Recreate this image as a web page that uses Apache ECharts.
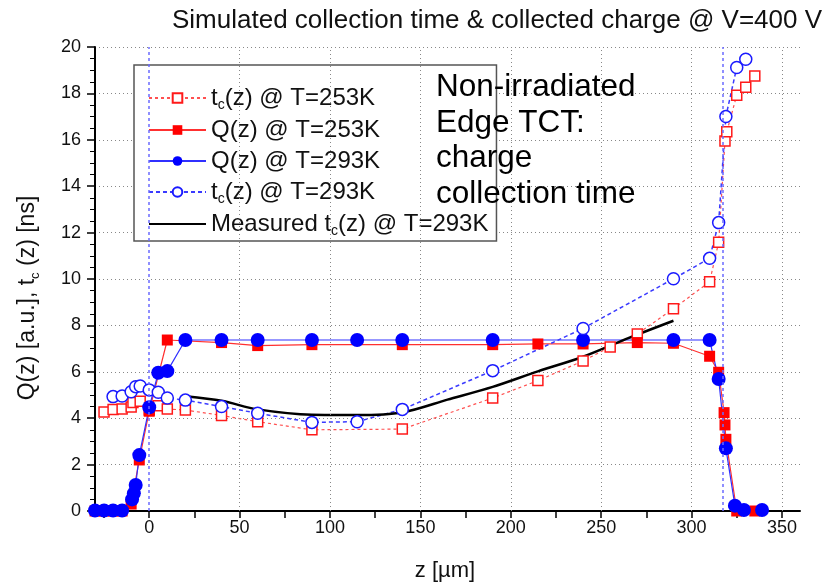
<!DOCTYPE html>
<html>
<head>
<meta charset="utf-8">
<script src="https://cdn.jsdelivr.net/npm/echarts@6/dist/echarts.min.js"></script>
</head>
<body style="margin:0;background:#fff">
<div id="main" style="width:830px;height:582px;"></div>
<script type="text/javascript">
// simulated t_c(z), T=253K (open red squares)
var tc253Z = [-25, -20, -15, -10, -9, -5, 0, 5, 10, 20, 40, 60, 90, 140, 190, 215, 240, 255, 270, 290, 310, 315, 318.5, 319.5, 325, 330, 335];
var tc253V = [4.27, 4.38, 4.4, 4.48, 4.68, 4.73, 4.35, 4.54, 4.4, 4.35, 4.12, 3.85, 3.5, 3.53, 4.87, 5.62, 6.47, 7.07, 7.63, 8.72, 9.88, 11.58, 15.95, 16.35, 17.92, 18.26, 18.75];
// simulated Q(z), T=253K (filled red squares)
var q253Z = [-30, -25, -20, -15, -10, -5.5, 0, 10, 40, 60, 90, 140, 190, 215, 240, 270, 290, 310, 315, 318, 318.5, 319, 325, 335];
var q253V = [0, 0, 0, 0, 0.3, 2.2, 4.3, 7.37, 7.26, 7.13, 7.17, 7.17, 7.17, 7.2, 7.2, 7.26, 7.23, 6.67, 5.98, 4.24, 3.71, 3.09, 0, 0];
// simulated Q(z), T=293K (filled blue circles)
var q293Z = [-30, -25, -20, -15, -9.5, -8.5, -7.5, -5.5, 0, 5, 10, 20, 40, 60, 90, 115, 140, 190, 240, 290, 310, 315, 319, 324, 329, 339];
var q293V = [0.02, 0.02, 0.02, 0.02, 0.5, 0.76, 1.12, 2.41, 4.47, 5.96, 6.03, 7.37, 7.37, 7.37, 7.37, 7.37, 7.37, 7.37, 7.37, 7.37, 7.37, 5.69, 2.7, 0.23, 0.04, 0.04];
// simulated t_c(z), T=293K (open blue circles)
var tc293Z = [-20, -15, -10, -7.5, -5, 0, 5, 10, 20, 40, 60, 90, 115, 140, 190, 240, 290, 310, 315, 319, 325, 330];
var tc293V = [4.93, 4.96, 5.14, 5.36, 5.39, 5.22, 5.12, 4.87, 4.78, 4.5, 4.21, 3.82, 3.85, 4.38, 6.05, 7.87, 10.01, 10.89, 12.43, 17.0, 19.12, 19.47];
// measured t_c(z), T=293K (black line)
var measZ = [20, 40, 60, 90, 115, 140, 165, 190, 215, 240, 265, 290];
var measV = [4.95, 4.75, 4.38, 4.15, 4.14, 4.25, 4.8, 5.35, 6.02, 6.65, 7.45, 8.2];

var xLabels = [0, 50, 100, 150, 200, 250, 300, 350];
var xTicks = [-25, 0, 25, 50, 75, 100, 125, 150, 175, 200, 225, 250, 275, 300, 325, 350];
var xGrid = [50, 100, 150, 200, 250, 300, 350];
var edgeLines = [0, 317];

function pairs(zs, vs) {
    var res = [];
    for (var i = 0; i < zs.length; i++) res.push([zs[i], vs[i]]);
    return res;
}

var myChart = echarts.init(document.getElementById('main'));
var FONT = 'Liberation Sans, Arial, sans-serif';

var gridMarks = xGrid.map(function (v) {
    return {xAxis: v};
});
edgeLines.forEach(function (v) {
    gridMarks.push({xAxis: v, lineStyle: {color: '#6b6bff', width: 1.5, type: [3, 3]}});
});

var option = {
    backgroundColor: '#fff',
    animation: false,
    title: {
        text: 'Simulated collection time & collected charge @ V=400 V',
        left: 167, top: 3,
        textStyle: {fontFamily: FONT, fontSize: 26, fontWeight: 'normal', color: '#111'}
    },
    grid: {left: 95, right: 30, top: 47, bottom: 71},
    legend: {
        orient: 'vertical',
        left: 134, top: 65,
        padding: [20, 8, 3, 14],
        itemGap: 5,
        itemWidth: 57,
        itemHeight: 12,
        borderColor: '#555',
        borderWidth: 1.5,
        backgroundColor: '#fff',
        data: [
            'tc(z) @ T=253K', 'Q(z) @ T=253K', 'Q(z) @ T=293K', 'tc(z) @ T=293K',
            {name: 'Measured tc(z) @ T=293K', itemStyle: {opacity: 0}}
        ],
        formatter: function (name) {
            return name.replace('tc', 't{sub|c}');
        },
        textStyle: {
            fontFamily: FONT, fontSize: 24, color: '#111', lineHeight: 26,
            rich: {sub: {fontSize: 14, fontFamily: FONT, color: '#111', padding: [14, 0, 0, 0]}}
        }
    },
    xAxis: {
        type: 'value', min: -30, max: 360,
        axisLine: {lineStyle: {color: '#000', width: 2}},
        axisTick: {customValues: xTicks, length: 7, lineStyle: {color: '#000', width: 1.5}},
        axisLabel: {customValues: xLabels, fontFamily: FONT, fontSize: 18, color: '#111', margin: 8},
        splitLine: {show: false}
    },
    yAxis: {
        type: 'value', min: 0, max: 20, interval: 2,
        axisLine: {show: true, onZero: false, lineStyle: {color: '#000', width: 2}},
        axisTick: {show: true, length: 8, lineStyle: {color: '#000', width: 1.5}},
        minorTick: {show: true, splitNumber: 4, length: 5, lineStyle: {color: '#000', width: 1}},
        axisLabel: {fontFamily: FONT, fontSize: 18, color: '#111', margin: 14},
        splitLine: {show: true, lineStyle: {color: '#888', width: 1, type: [1, 3]}}
    },
    graphic: [
        {
            type: 'text', left: 436, top: 70, z: 100,
            style: {
                text: 'Non-irradiated\nEdge TCT:\ncharge\ncollection time',
                font: '31.5px ' + FONT, fill: '#000', lineHeight: 35.5
            }
        },
        {
            type: 'text', x: 445, y: 571, z: 100,
            style: {text: 'z [\u00b5m]', font: '22px ' + FONT, fill: '#111', align: 'center', verticalAlign: 'middle'}
        },
        {
            type: 'text', x: 28, y: 298, rotation: Math.PI / 2, z: 100,
            style: {
                text: 'Q(z) [a.u.], t{sub|c} (z) [ns]',
                font: '23px ' + FONT, fill: '#111', align: 'center', verticalAlign: 'middle',
                rich: {sub: {fontSize: 13, fontFamily: FONT, fill: '#111', padding: [14, 0, 0, 0]}}
            }
        }
    ],
    series: [
        {
            name: 'grid', type: 'line', data: [], z: 1, silent: true,
            markLine: {
                symbol: 'none', silent: true, label: {show: false},
                lineStyle: {color: '#888', width: 1, type: [1, 3]},
                data: gridMarks
            }
        },
        {
            name: 'tc(z) @ T=253K', type: 'line', data: pairs(tc253Z, tc253V),
            symbol: 'rect', symbolSize: 10,
            itemStyle: {color: '#fff', borderColor: '#ff1a1a', borderWidth: 1.5},
            lineStyle: {color: '#ff5050', width: 1.2, type: [3, 3]}
        },
        {
            name: 'Q(z) @ T=253K', type: 'line', data: pairs(q253Z, q253V),
            symbol: 'rect', symbolSize: 11,
            itemStyle: {color: '#ff0000'},
            lineStyle: {color: '#ff3030', width: 1.2}
        },
        {
            name: 'Q(z) @ T=293K', type: 'line', data: pairs(q293Z, q293V),
            symbol: 'circle', symbolSize: 14,
            itemStyle: {color: '#0000ff'},
            lineStyle: {color: '#3030ff', width: 1.2}
        },
        {
            name: 'tc(z) @ T=293K', type: 'line', data: pairs(tc293Z, tc293V),
            symbol: 'circle', symbolSize: 12,
            itemStyle: {color: '#fff', borderColor: '#1a1aff', borderWidth: 1.5},
            lineStyle: {color: '#3a3aff', width: 1.5, type: [4, 3]}
        },
        {
            name: 'Measured tc(z) @ T=293K', type: 'line', data: pairs(measZ, measV),
            symbol: 'none', smooth: 0.3,
            itemStyle: {color: '#000'},
            lineStyle: {color: '#000', width: 2.5}
        }
    ]
};

myChart.setOption(option);
</script>
</body>
</html>
